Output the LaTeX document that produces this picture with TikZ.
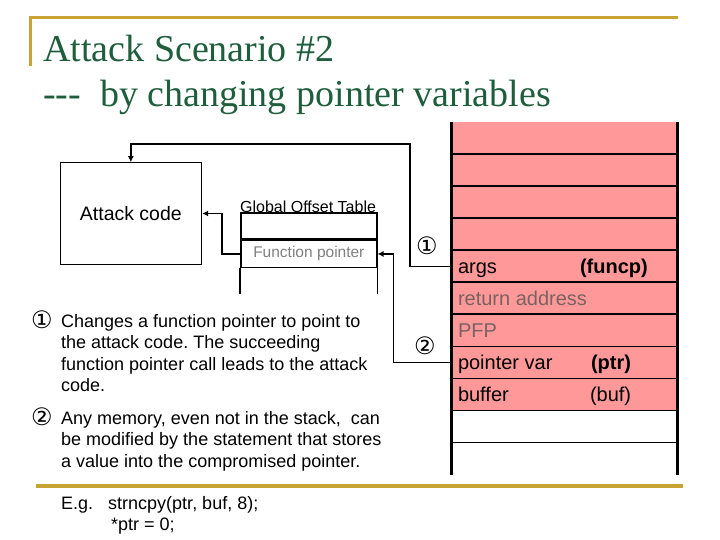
\documentclass[tikz,border=0pt]{standalone}
\usepackage{fontspec}
\setmainfont{Liberation Serif}
\setsansfont{Liberation Sans}
\newfontfamily\circfont{DejaVu Sans}
\usepackage{tikz}
\usetikzlibrary{positioning, arrows.meta}
\definecolor{slidegold}{HTML}{C8A232}
\definecolor{titlegreen}{HTML}{1E5E3C}
\definecolor{stackpink}{HTML}{FF9999}
\definecolor{fpgray}{HTML}{808080}
\definecolor{slotgray}{HTML}{7A6262}
\frenchspacing
\tikzset{
  >={Latex[length=6pt, width=6pt]},
  every node/.style={font=\sffamily},
  goldrule/.style={slidegold, line width=3pt},
  titletext/.style={anchor=base west, inner sep=0, titlegreen,
    font=\rmfamily\fontsize{38}{45}\selectfont},
  codebox/.style={
    rectangle, draw, line width=1pt, minimum width=141.7pt,
    minimum height=101.6pt, font=\sffamily\fontsize{19.5}{23}\selectfont
  },
  gotslot/.style={
    rectangle, draw, line width=1.6pt, minimum width=135.7pt,
    inner sep=0, font=\sffamily\fontsize{15.5}{18}\selectfont
  },
  gotline/.style={line width=1.6pt},
  stackslot/.style={
    rectangle, fill=stackpink, minimum width=225.5pt,
    minimum height=32.08pt, inner sep=0
  },
  freeslot/.style={
    rectangle, minimum width=225.5pt, minimum height=32.08pt, inner sep=0
  },
  rowline/.style={line width=1.6pt},
  stackside/.style={line width=3pt},
  slotlabel/.style={
    anchor=west, inner sep=0, text height=14pt, text depth=0pt,
    font=\sffamily\fontsize{20}{24}\selectfont
  },
  ptrarrow/.style={->, line width=1.6pt},
  circnum/.style={inner sep=0, font=\circfont\fontsize{24}{26}\selectfont},
  bodytext/.style={anchor=north west, inner sep=0, align=left,
    font=\sffamily\fontsize{18}{21.5}\selectfont},
  egtext/.style={anchor=base west, inner sep=0,
    font=\sffamily\fontsize{18}{21.5}\selectfont}
}

\begin{document}
\begin{tikzpicture}[x=1pt, y=-1pt]
\useasboundingbox[fill=white] (0,0) rectangle (720,540);

% Slide frame
\draw[goldrule] (30,66) -- (30,18) -- (678,18);
\draw[goldrule, line width=4pt] (36,486) -- (683,486);

% Title
\node[titletext] (title1) at (43,62) {Attack Scenario \#2};
\node[titletext] (title2) at (43,107) {-{}-{}-\ \ by changing pointer variables};

% Stack (x-coords)
\def\xstack{564.25}  % centre of the stack column
\def\ytop{122}       % top of the stack
\def\rowh{32.08}     % one slot

\foreach \i in {0,...,8} {
  \node[stackslot] (row\i) at (\xstack, {\ytop+(\i+0.5)*\rowh}) {};
}
\foreach \i in {9,10} {
  \node[freeslot] (row\i) at (\xstack, {\ytop+(\i+0.5)*\rowh}) {};
}
\foreach \i in {1,...,10} {
  \draw[rowline] (row\i.north west) -- (row\i.north east);
}
\draw[stackside] (row0.north west) -- (row10.south west);
\draw[stackside] (row0.north east) -- (row10.south east);

% Slot labels
\node[slotlabel] (argsl)  at ([xshift=6.5pt]row4.west) {args};
\node[slotlabel, font=\sffamily\bfseries\fontsize{20}{24}\selectfont]
  (funcpl) at ([xshift=128.5pt]row4.west) {(funcp)};
\node[slotlabel, slotgray] (retl) at ([xshift=6.5pt]row5.west) {return address};
\node[slotlabel, slotgray] (pfpl) at ([xshift=6.5pt]row6.west) {PFP};
\node[slotlabel] (ptrvl) at ([xshift=6.5pt]row7.west) {pointer var};
\node[slotlabel, font=\sffamily\bfseries\fontsize{20}{24}\selectfont]
  (ptrl) at ([xshift=139.5pt]row7.west) {(ptr)};
\node[slotlabel] (bufvl) at ([xshift=6.5pt]row8.west) {buffer};
\node[slotlabel] (bufl)  at ([xshift=138.5pt]row8.west) {(buf)};

% Attack code
\node[codebox] (atk) at (130.85,213.5) {Attack code};

% Global Offset Table
\node[gotslot, minimum height=25.7pt] (gotA) at (308.85,226.15) {};
\node[gotslot, minimum height=26.7pt, below=0pt of gotA, text=fpgray] (fp) {Function pointer};
\draw[gotline] (fp.south west) -- ++(0,26);
\draw[gotline] (fp.south east) -- ++(0,26);
\node[anchor=base west, inner sep=0, font=\sffamily\fontsize{16}{18}\selectfont]
  (gotlbl) at (240,212) {Global Offset Table};

% 1: funcp overwritten -> attack code
\coordinate (bendA) at (410,144);
\draw[ptrarrow] (row4.west) -| (bendA) -| (atk.north);
\node[circnum] (mark1) at (427,245.5) {①};

% call through the function pointer
\draw[ptrarrow] (fp.west) -| ([xshift=20pt]atk.east) -- (atk.east);

% 2: ptr overwritten -> function pointer
\draw[ptrarrow] (row7.west) -| ([xshift=16pt]fp.east) -- (fp.east);
\node[circnum] (mark2) at (425,346) {②};

% Notes
\node[circnum, anchor=base west] (note1n) at (31,328) {①};
\node[bodytext] (note1) at (61,314) {Changes a function pointer to point to\\
  the attack code. The succeeding\\
  function pointer call leads to the attack\\
  code.};
\node[circnum, anchor=base west] (note2n) at (31,425) {②};
\node[bodytext] (note2) at (61,411) {Any memory, even not in the stack,\ \ can\\
  be modified by the statement that stores\\
  a value into the compromised pointer.};
\node[egtext] (eg1) at (61,509) {E.g.\ \ \ strncpy(ptr, buf, 8);};
\node[egtext] (eg2) at (111,530) {*ptr = 0;};

\end{tikzpicture}
\end{document}
